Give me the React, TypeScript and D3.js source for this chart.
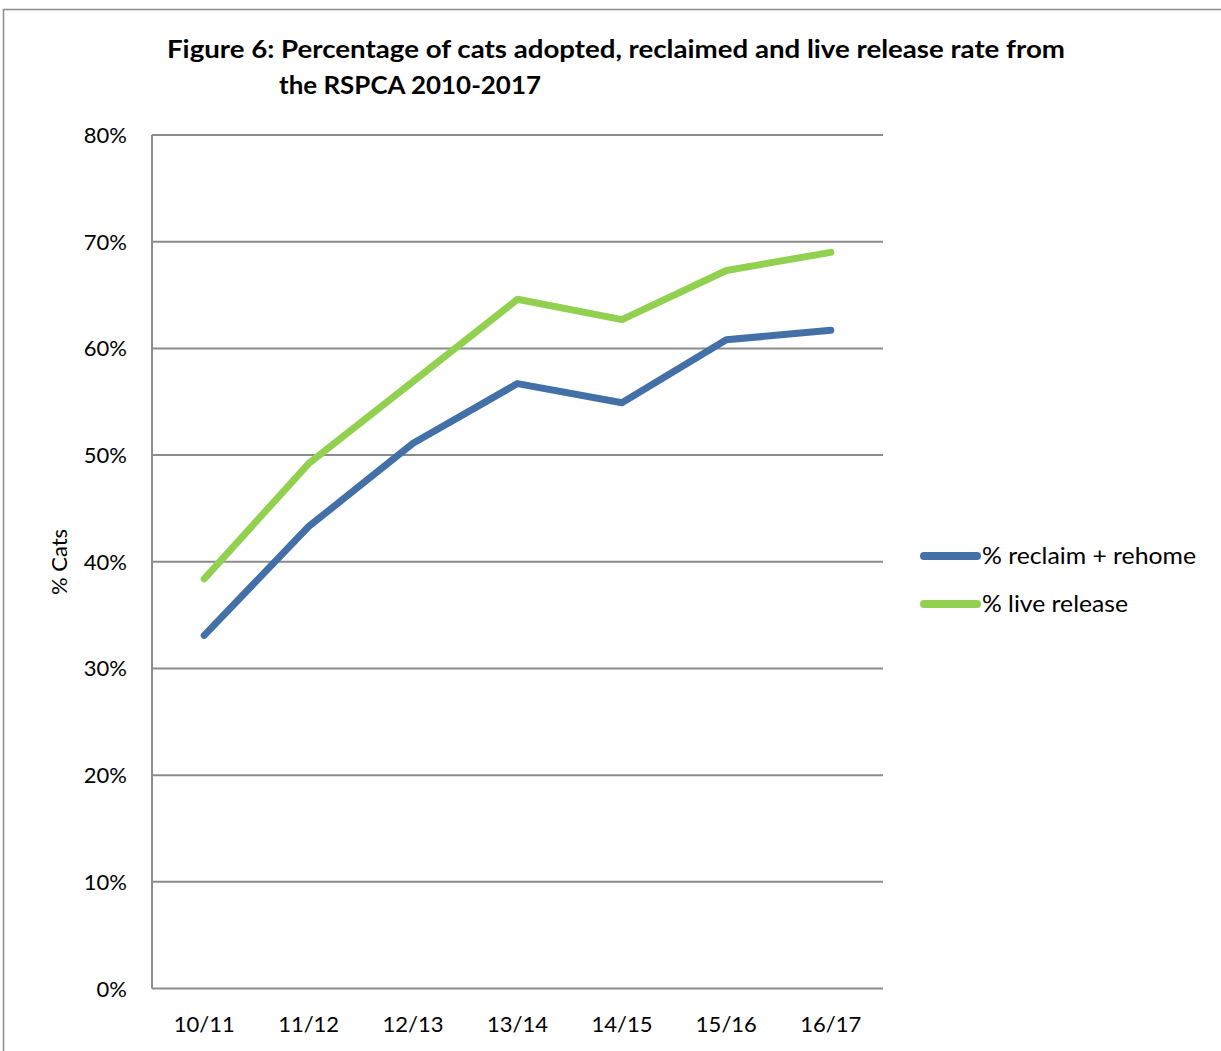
import React from "react";
import * as d3 from "d3";

const categories = ["10/11", "11/12", "12/13", "13/14", "14/15", "15/16", "16/17"];
const reclaimRehome = [33.1, 43.3, 51.1, 56.7, 54.9, 60.8, 61.7];
const liveRelease = [38.4, 49.2, 56.9, 64.6, 62.7, 67.3, 69.0];
const yTicks = [0, 10, 20, 30, 40, 50, 60, 70, 80];
const seriesNames = ["% reclaim + rehome", "% live release"];
const seriesColors = ["#4470A8", "#92D050"];
const legendWidths = [214, 146];

const W = 1221;
const H = 1051;
const FONT = "Lato, 'Open Sans', sans-serif";

export default function App() {
  const x = d3.scaleBand<string>().domain(categories).range([152, 883]);
  const y = d3.scaleLinear().domain([0, 80]).range([988.5, 135]);
  const line = d3
    .line<number>()
    .x((_, i) => (x(categories[i]) as number) + x.bandwidth() / 2)
    .y((d) => y(d));

  const series = [reclaimRehome, liveRelease];

  return (
    <svg
      width={W}
      height={H}
      style={{ position: "absolute", left: 0, top: 0, background: "#fff" }}
      fontFamily={FONT}
    >
      <rect x={3.5} y={9.5} width={W + 10} height={H + 10} fill="#fff" stroke="#8c8c8c" strokeWidth={1.5} />

      <text x={167} y={58} fontSize={25} fontWeight="bold" fill="#000" textLength={898} lengthAdjust="spacingAndGlyphs">
        Figure 6: Percentage of cats adopted, reclaimed and live release rate from
      </text>
      <text x={279} y={94} fontSize={25} fontWeight="bold" fill="#000" textLength={262} lengthAdjust="spacingAndGlyphs">
        the RSPCA 2010-2017
      </text>

      {yTicks.map((t) => (
        <g key={t}>
          {t > 0 && (
            <line x1={152} x2={883} y1={y(t)} y2={y(t)} stroke="#8c8c8c" strokeWidth={2} />
          )}
          <text x={127} y={y(t) + 8} textAnchor="end" fontSize={22} fill="#000">
            {t}%
          </text>
        </g>
      ))}
      <line x1={152} x2={152} y1={y(80)} y2={y(0)} stroke="#8c8c8c" strokeWidth={2} />
      <line x1={152} x2={883} y1={y(0)} y2={y(0)} stroke="#8c8c8c" strokeWidth={2} />

      {categories.map((c) => (
        <text
          key={c}
          x={(x(c) as number) + x.bandwidth() / 2}
          y={1032}
          textAnchor="middle"
          fontSize={22}
          fill="#000"
        >
          {c}
        </text>
      ))}

      <text
        transform="translate(67,562) rotate(-90)"
        textAnchor="middle"
        fontSize={22}
        fill="#000"
      >
        % Cats
      </text>

      {series.map((s, i) => (
        <path
          key={seriesNames[i]}
          d={line(s) as string}
          fill="none"
          stroke={seriesColors[i]}
          strokeWidth={7}
          strokeLinecap="round"
          strokeLinejoin="round"
        />
      ))}

      {seriesNames.map((n, i) => (
        <g key={n} transform={`translate(0,${556 + i * 48})`}>
          <line x1={924} x2={977} y1={0} y2={0} stroke={seriesColors[i]} strokeWidth={8} strokeLinecap="round" />
          <text x={982} y={8} fontSize={23} fill="#000" textLength={legendWidths[i]} lengthAdjust="spacingAndGlyphs">
            {n}
          </text>
        </g>
      ))}
    </svg>
  );
}
